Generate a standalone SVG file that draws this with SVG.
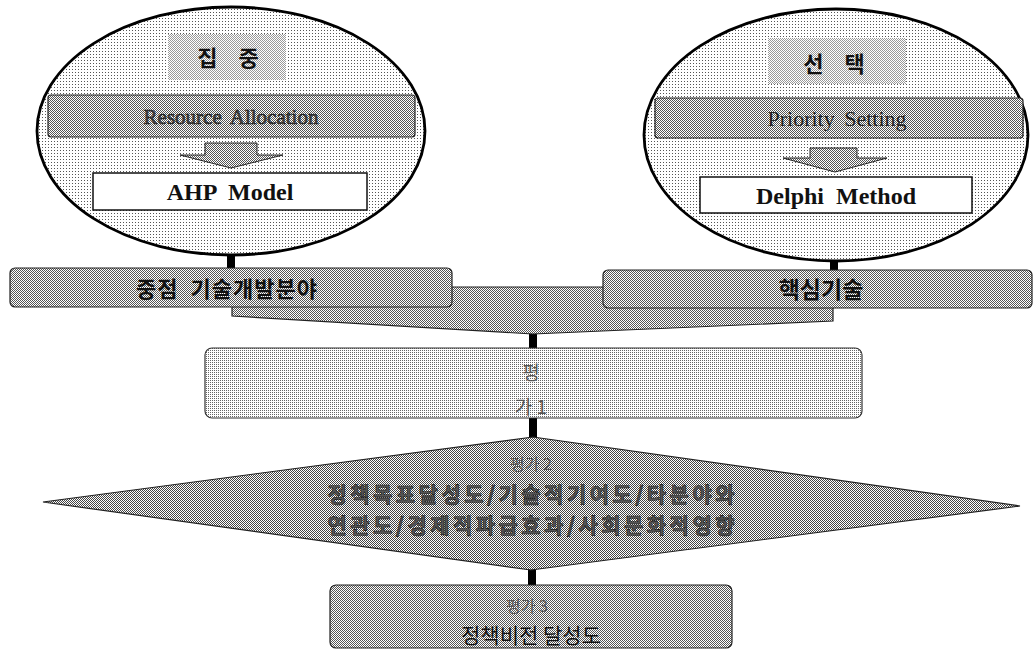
<svg xmlns="http://www.w3.org/2000/svg" width="1036" height="650" viewBox="0 0 1036 650">
<defs>
  <pattern id="dots" width="3" height="3" patternUnits="userSpaceOnUse"><rect width="3" height="3" fill="#fff"/><rect width="1" height="1" fill="#555"/></pattern>
  <pattern id="chk" width="2" height="2" patternUnits="userSpaceOnUse"><rect width="2" height="2" fill="#fff"/><rect width="1" height="1" fill="#555"/><rect x="1" y="1" width="1" height="1" fill="#555"/></pattern>
  <pattern id="dk" width="2" height="2" patternUnits="userSpaceOnUse"><rect width="2" height="2" fill="#fff"/><rect width="1" height="1" fill="#444"/><rect x="1" y="1" width="1" height="1" fill="#444"/></pattern>
  <pattern id="mid" width="2" height="2" patternUnits="userSpaceOnUse"><rect width="2" height="2" fill="#fff"/><rect width="1" height="1" fill="#999"/><rect x="1" y="1" width="1" height="1" fill="#999"/></pattern>
  <pattern id="lt" width="2" height="2" patternUnits="userSpaceOnUse"><rect width="2" height="2" fill="#fff"/><rect width="1" height="1" fill="#666"/></pattern>
</defs>
<style>
  .ell{fill:url(#dots);stroke:#000;stroke-width:2.8}
  .bar{fill:url(#chk);stroke:#222;stroke-width:1.2}
  .dia{fill:url(#dk);stroke:#222;stroke-width:1.2}
  .patch{fill:url(#mid);stroke:none}
  .light{fill:url(#lt);stroke:#333;stroke-width:1.2}
  .wbox{fill:#fff;stroke:#111;stroke-width:1.5}
  .arrow{fill:url(#chk);stroke:#222;stroke-width:1}
  .kb{font-family:"Noto Sans CJK KR",sans-serif;font-weight:bold;fill:#111;text-anchor:middle}
  .kh{font-family:"Noto Sans CJK KR",sans-serif;font-weight:bold;fill:#555;stroke:#111;stroke-width:0.6;text-anchor:middle}
  .kf{font-family:"Noto Sans CJK KR",sans-serif;fill:#555;text-anchor:middle}
  .kr{font-family:"Noto Sans CJK KR",sans-serif;fill:#111;text-anchor:middle}
  .se{font-family:"Liberation Serif",serif;text-anchor:middle}
  .conn{stroke:#000;stroke-width:8}
</style>

<g id="connectors">
  <line class="conn" x1="231" y1="254" x2="231" y2="269"/>
  <line class="conn" x1="834" y1="260" x2="834" y2="271"/>
  <line class="conn" x1="533" y1="332" x2="533" y2="349"/>
  <line class="conn" x1="533" y1="417" x2="533" y2="439"/>
  <line class="conn" x1="532" y1="568" x2="532" y2="586"/>
</g>

<g id="node-focus">
  <ellipse class="ell" cx="231" cy="131" rx="194" ry="124"/>
  <rect class="patch" x="168" y="34" width="118" height="46"/>
  <text class="kb" x="232" y="66" font-size="22" letter-spacing="8">집 중</text>
  <rect class="bar" x="48" y="95" width="367" height="42" rx="3"/>
  <text class="se" x="231" y="124" font-size="21" fill="#444" stroke="#111" stroke-width="0.5" word-spacing="4">Resource Allocation</text>
  <path class="arrow" d="M205,143 H257 V155 H283 L231,168 L180,155 H205 Z"/>
  <rect class="wbox" x="93" y="173" width="274" height="37"/>
  <text class="se" x="230" y="200" font-size="24" font-weight="bold" fill="#111" word-spacing="6">AHP Model</text>
</g>

<g id="node-select">
  <ellipse class="ell" cx="836" cy="135" rx="192" ry="126"/>
  <rect class="patch" x="768" y="38" width="138" height="46"/>
  <text class="kb" x="838" y="72" font-size="22" letter-spacing="8">선 택</text>
  <rect class="bar" x="655" y="98" width="368" height="40" rx="3"/>
  <text class="se" x="837" y="126" font-size="22" fill="#222" word-spacing="4">Priority Setting</text>
  <path class="arrow" d="M810,148 H857 V158 H887 L835,172 L783,158 H810 Z"/>
  <rect class="wbox" x="700" y="177" width="272" height="36"/>
  <text class="se" x="836" y="204" font-size="24" font-weight="bold" fill="#111" word-spacing="6">Delphi Method</text>
</g>

<g id="node-merge">
  <path class="bar" d="M232,287 H833 V321 L533,334 L232,316 Z"/>
</g>

<g id="node-key-area">
  <rect class="bar" x="10" y="268" width="442" height="39" rx="5"/>
  <text class="kb" x="227" y="297" font-size="22" letter-spacing="1" word-spacing="6">중점 기술개발분야</text>
</g>

<g id="node-core-tech">
  <rect class="bar" x="603" y="270" width="429" height="38" rx="5"/>
  <text class="kb" x="821" y="298" font-size="23">핵심기술</text>
</g>

<g id="node-eval1">
  <rect class="light" x="205" y="348" width="657" height="70" rx="7"/>
  <text class="kf" x="531" y="380" font-size="19">평</text>
  <text class="kf" x="531" y="414" font-size="19">가 1</text>
</g>

<g id="node-eval2">
  <path class="dia" d="M533,437 L1020,506 L531,570 L43,502 Z"/>
  <text class="kf" x="531" y="470" font-size="16">평가 2</text>
  <text class="kh" x="531" y="502" font-size="21" textLength="407" lengthAdjust="spacing">정책목표달성도/기술적기여도/타분야와</text>
  <text class="kh" x="531" y="533" font-size="21" textLength="407" lengthAdjust="spacing">연관도/경제적파급효과/사회문화적영향</text>
</g>

<g id="node-eval3">
  <rect class="bar" x="330" y="585" width="402" height="63" rx="6"/>
  <text class="kf" x="527" y="612" font-size="16">평가 3</text>
  <text class="kr" x="531" y="643" font-size="21">정책비전 달성도</text>
</g>
</svg>
